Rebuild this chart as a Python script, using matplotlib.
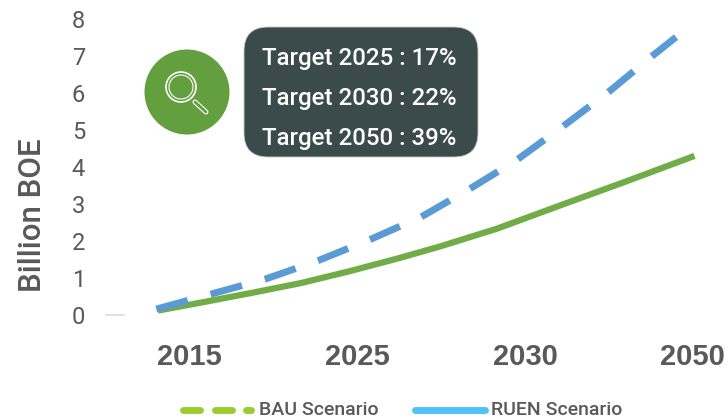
import matplotlib
matplotlib.use("Agg")
import matplotlib.pyplot as plt
from matplotlib.patches import Circle, FancyBboxPatch
from matplotlib.lines import Line2D

# x is in category units, 0 = 2015 ... 3 = 2050
categories = ["2015", "2025", "2030", "2050"]
yticks = [0, 1, 2, 3, 4, 5, 6, 7, 8]

bauX = [-0.19, 0.06, 0.36, 0.66, 0.95, 1.25, 1.49, 1.83, 2.22, 2.62, 3.01]
bauY = [0.12, 0.33, 0.59, 0.86, 1.18, 1.54, 1.85, 2.33, 2.98, 3.64, 4.3]
ruenX = [-0.2, 0.13, 0.45, 0.76, 1.07, 1.38, 1.67, 1.95, 2.22, 2.49, 2.75, 2.9]
ruenY = [0.16, 0.57, 0.97, 1.46, 2.03, 2.65, 3.41, 4.19, 5.08, 6.0, 6.97, 7.51]

targets = ["Target 2025 : 17%", "Target 2030 : 22%", "Target 2050 : 39%"]

font = "Roboto"
grey = "#595959"

fig = plt.figure(figsize=(7.28, 4.2), dpi=100)
ax = fig.add_axes([106 / 728, 1 - 315 / 420, 622 / 728, 296 / 420])
ax.set_xlim(-0.5, 3.21)
ax.set_ylim(0, 8)
for s in ax.spines.values():
    s.set_visible(False)

ax.plot(bauX, bauY, color="#70ad47", lw=4.5, solid_capstyle="butt", solid_joinstyle="round", clip_on=False)
ax.plot(ruenX, ruenY, color="#5b9bd5", lw=5, clip_on=False, dash_capstyle="butt", dash_joinstyle="round", dashes=(4.7, 3.4))
ax.plot([-0.5, -0.39], [0, 0], color="#d9d9d9", lw=1.2, clip_on=False)

ax.set_xticks(range(len(categories)))
ax.set_xticklabels(categories, fontsize=21, fontweight="bold", color=grey, family="Liberation Sans")
ax.set_yticks(yticks)
ax.set_yticklabels(yticks, fontsize=17, color=grey, family=font)
ax.tick_params(length=0)
ax.tick_params(axis="x", pad=20)
ax.tick_params(axis="y", pad=15)
ax.set_ylabel("Billion BOE", fontsize=22.5, color=grey, family=font, fontweight="medium")
ax.yaxis.set_label_coords(-0.095, 0.338)

# overlay in pixel coordinates for the callout and legend
over = fig.add_axes([0, 0, 1, 1])
over.set_xlim(0, 728)
over.set_ylim(420, 0)
over.axis("off")
over.patch.set_alpha(0)

over.add_patch(FancyBboxPatch((262, 45), 198, 94, boxstyle="round,pad=18,rounding_size=24",
                              fc="#3b4b4b", ec="#c8cccc", lw=0.6))
for t, y in zip(targets, [58, 98, 138]):
    over.text(359, y, t, color="white", fontsize=17.3, family=font, fontweight="medium", ha="center", va="center")

over.add_patch(Circle((187, 92), 42.5, fc="#639f3f", ec="none"))
over.add_patch(Circle((181, 87), 15, fc="none", ec="white", lw=1.2))
over.add_patch(Circle((181, 87), 12, fc="none", ec="white", lw=0.8))
over.add_line(Line2D([195, 206], [102, 112], color="white", lw=3.6, solid_capstyle="round"))
over.add_line(Line2D([195, 206], [102, 112], color="#639f3f", lw=2, solid_capstyle="round"))

# legend
over.add_line(Line2D([183, 200], [410, 410], color="#9acd32", lw=5, solid_capstyle="round"))
over.add_line(Line2D([215, 232], [410, 410], color="#9acd32", lw=5, solid_capstyle="round"))
over.add_line(Line2D([246, 251], [410, 410], color="#9acd32", lw=5, solid_capstyle="round"))
over.text(259, 410, "BAU Scenario", color=grey, fontsize=14, family=font, fontweight="medium", va="center")
over.add_line(Line2D([415, 485], [410, 410], color="#4fc3f7", lw=5, solid_capstyle="round"))
over.text(491, 410, "RUEN Scenario", color=grey, fontsize=14, family=font, fontweight="medium", va="center")

fig.savefig("out.png", dpi=100)
